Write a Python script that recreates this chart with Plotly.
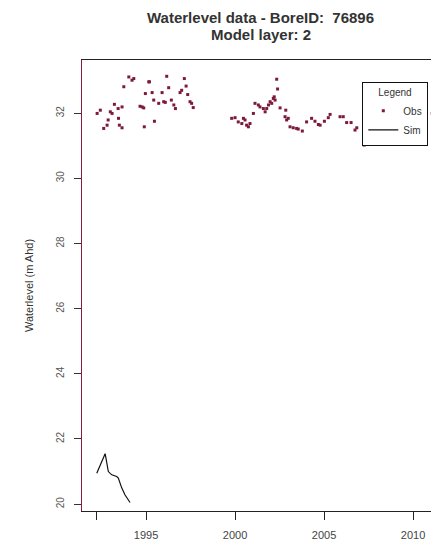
import plotly.graph_objects as go

# Observed water levels (decimal year, m AHD)
obs_year = [1992.25, 1992.43, 1992.62, 1992.81, 1992.87, 1992.99, 1993.09, 1993.22, 1993.43, 1993.65,
            1993.45, 1993.5, 1993.65, 1993.75, 1994.03, 1994.21, 1994.31, 1994.66, 1994.78, 1994.87,
            1994.9, 1994.96, 1995.15, 1995.19, 1995.34, 1995.43, 1995.47, 1995.71, 1995.9, 1995.99,
            1996.08, 1996.16, 1996.27, 1996.42, 1996.56, 1996.65, 1996.91, 1997.0, 1997.15, 1997.25,
            1997.34, 1997.47, 1997.56, 1997.65,
            1999.81, 2000.0, 2000.18, 2000.38, 2000.47, 2000.56, 2000.65, 2000.75, 2000.84, 2001.03,
            2001.12, 2001.31, 2001.4, 2001.59, 2001.69, 2001.78, 2001.88, 2001.97, 2002.06, 2002.15,
            2002.2, 2002.25, 2002.34, 2002.39, 2002.53, 2002.81, 2002.85, 2002.9, 2002.99, 2003.09,
            2003.27, 2003.46, 2003.55, 2003.78, 2004.02, 2004.3, 2004.49, 2004.68, 2004.78, 2005.02,
            2005.24, 2005.34, 2005.9, 2006.08, 2006.27, 2006.52, 2006.74, 2006.84, 2007.26, 2011.08]
obs_level = [31.99, 32.09, 31.53, 31.63, 31.79, 32.04, 31.99, 32.27, 32.14, 32.19,
             31.84, 31.63, 31.55, 32.81, 33.11, 33.01, 33.06, 32.21, 32.19, 32.16,
             31.58, 32.6, 32.96, 32.96, 32.63, 32.4, 31.75, 32.3, 32.63, 32.35,
             32.33, 33.13, 32.78, 32.4, 32.25, 32.14, 32.63, 32.7, 33.06, 32.83,
             32.57, 32.35, 32.3, 32.17,
             31.84, 31.86, 31.73, 31.68, 31.84, 31.79, 31.63, 31.58, 31.68, 31.99,
             32.3, 32.25, 32.19, 32.14, 32.04, 32.14, 32.25, 32.35, 32.3, 32.45,
             32.5, 32.4, 33.04, 32.74, 32.16, 31.89, 32.09, 31.79, 31.84, 31.58,
             31.55, 31.53, 31.51, 31.45, 31.73, 31.84, 31.75, 31.65, 31.63, 31.75,
             31.86, 31.96, 31.89, 31.89, 31.71, 31.71, 31.48, 31.55, 31.02, 31.99]

# Simulated water levels
sim_year = [1992.23, 1992.45, 1992.7, 1992.88, 1993.07, 1993.35, 1993.44, 1993.63, 1993.82, 1994.1]
sim_level = [20.95, 21.25, 21.55, 21.0, 20.9, 20.85, 20.8, 20.5, 20.28, 20.05]

x_tickvals = [1992.23, 1995, 2000, 2005, 2010, 2011.1]
x_ticktext = ["", "1995", "2000", "2005", "2010", ""]
y_tickvals = [20, 22, 24, 26, 28, 30, 32]
y_ticktext = ["20", "22", "24", "26", "28", "30", "32"]

title_lines = ["Waterlevel data - BoreID:  76896", "Model layer: 2"]

FONT = "Liberation Sans, Arial, sans-serif"
# the page body adds an 8px margin, so the figure is 8px smaller than the window
W, H = 431, 547

fig = go.Figure()
fig.add_trace(go.Scatter(
    x=obs_year, y=obs_level, mode="markers", name="Obs",
    marker=dict(symbol="square", size=3, color="#7d1a3c"),
))
fig.add_trace(go.Scatter(
    x=sim_year, y=sim_level, mode="lines", name="Sim",
    line=dict(color="#111111", width=1.2),
))

for i, (txt, ypx) in enumerate(zip(title_lines, [17.5, 34])):
    fig.add_annotation(
        text="<b>%s</b>" % txt, xref="paper", x=0.5, xanchor="center",
        yref="paper", y=1 + (60 - ypx) / 451.0, yanchor="middle",
        showarrow=False, font=dict(size=15, color="#333333", family=FONT),
    )

fig.update_layout(
    width=W, height=H,
    margin=dict(l=74, r=0, t=52, b=44, autoexpand=False),
    paper_bgcolor="white", plot_bgcolor="white",
    font=dict(family=FONT, color="#444444"),
    legend=dict(
        title=dict(text="Legend", side="top center", font=dict(size=10, color="#333333")),
        x=(362 - 82) / 357.0, y=(511 - 82) / 451.0, xanchor="left", yanchor="top",
        bordercolor="#111111", borderwidth=1.3, bgcolor="white",
        font=dict(size=10, color="#333333"),
        itemwidth=30, tracegroupgap=0,
    ),
    showlegend=True,
)
fig.update_xaxes(
    range=[1991.40, 2011.46], tickmode="array", tickvals=x_tickvals, ticktext=x_ticktext,
    showgrid=False, zeroline=False, showline=True, linecolor="#222222", linewidth=1.3,
    mirror=True, ticks="outside", ticklen=8, tickcolor="#222222", tickwidth=1.2,
    tickfont=dict(size=11, color="#444444"), ticklabelstandoff=6, automargin=False,
)
fig.update_yaxes(
    range=[19.79, 33.63], tickmode="array", tickvals=y_tickvals, ticktext=y_ticktext,
    showgrid=False, zeroline=False, showline=True, linecolor="#8a1a40", linewidth=1.3,
    ticks="outside", ticklen=7, tickcolor="#333333", tickwidth=1.2, tickangle=-90,
    tickfont=dict(size=10, color="#555555"), ticklabelstandoff=6, automargin=False,
    title=dict(text="Waterlevel (m Ahd)", font=dict(size=11, color="#333333"), standoff=18),
)

fig.write_html("out.html")
